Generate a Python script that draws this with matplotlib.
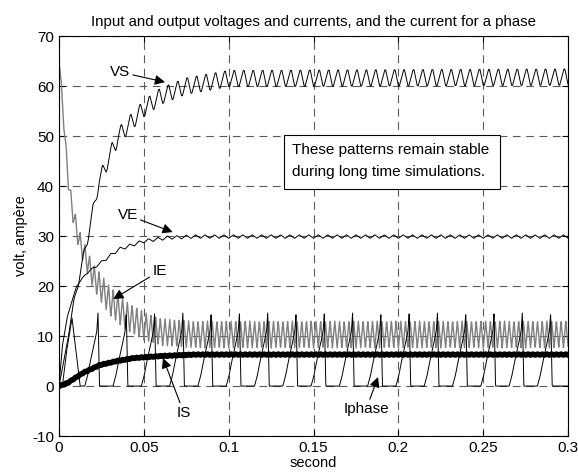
import numpy as np
import matplotlib
matplotlib.use("Agg")
import matplotlib.pyplot as plt
from matplotlib.patches import Rectangle

plt.rcParams['font.family'] = ['Liberation Sans', 'DejaVu Sans']
plt.rcParams['axes.unicode_minus'] = False

# time base (s)
t = np.arange(0, 0.3, 1e-4)

# VS: output voltage, mean read at anchor times + 180 Hz ripple
vs_t = [0, 0.004, 0.0078, 0.0177, 0.0236, 0.035, 0.05, 0.06, 0.075, 0.1, 0.3]
vs_mean = [0, 7, 15, 31, 41, 50, 55.5, 58, 60, 61.5, 61.8]
vs_amp_t = [0, 0.015, 0.03, 0.3]
vs_amp = [0, 1.0, 1.6, 1.6]
vs_period = 1 / 180
vs_shape_x = [0, 0.1, 0.55, 0.65, 1]
vs_shape_y = [-1, -1, 1, 1, -1]

# VE: input voltage
ve_t = [0, 0.002, 0.005, 0.0104, 0.016, 0.024, 0.035, 0.05, 0.065, 0.08, 0.3]
ve_mean = [0, 8, 14, 20, 22.5, 24.5, 27.3, 29, 29.7, 29.9, 29.9]
ve_amp = 0.35
ve_period = 1 / 180

# IE: input current
ie_t = [0, 0.003, 0.0055, 0.008, 0.012, 0.02, 0.03, 0.04, 0.05, 0.06, 0.08, 0.3]
ie_mean = [66, 52, 41, 35, 29, 22, 17, 14, 12, 10.8, 10.3, 10.3]
ie_amp_t = [0, 0.01, 0.03, 0.06, 0.3]
ie_amp = [1.0, 2.0, 3.0, 2.7, 2.7]
ie_period = 1 / 360

# IS: output current
is_t = [0, 0.005, 0.014, 0.024, 0.034, 0.044, 0.06, 0.08, 0.3]
is_mean = [0, 0.6, 2.6, 4.2, 5.0, 5.6, 6.0, 6.3, 6.3]
is_amp = 0.1
is_period = 1 / 360

# Iphase: one phase current, pulses every 1/60 s
iph_first_t = [0.002, 0.0045, 0.0077, 0.010, 0.0125]
iph_first_v = [0, 7, 13.6, 7, 0]
iph_peaks = [0.023 + k / 60 for k in range(17)]
iph_dt = [-0.0078, -0.0062, -0.0045, -0.0025, -0.0007, 0, 0.0004, 0.0009]
iph_v = [0, 2, 5, 8, 11, 14.6, 8, 0]


def tri(tt, period, sx, sy):
    return np.interp((tt % period) / period, sx, sy)


vs = np.interp(t, vs_t, vs_mean) + np.interp(t, vs_amp_t, vs_amp) * tri(t, vs_period, vs_shape_x, vs_shape_y)
ve = np.interp(t, ve_t, ve_mean) + ve_amp * np.clip(t / 0.03, 0, 1) * tri(t, ve_period, [0, 0.5, 1], [-1, 1, -1])
ie = np.interp(t, ie_t, ie_mean) + np.interp(t, ie_amp_t, ie_amp) * tri(t, ie_period, [0, 0.5, 1], [-1, 1, -1])
is_ = np.interp(t, is_t, is_mean) + is_amp * tri(t, is_period, [0, 0.5, 1], [-1, 1, -1])
iph = np.interp(t, iph_first_t, iph_first_v, left=0, right=0)
for p in iph_peaks:
    iph = np.maximum(iph, np.interp(t - p, iph_dt, iph_v, left=0, right=0))

fig = plt.figure(figsize=(5.78, 4.75), dpi=100)
ax = fig.add_axes([0.102, 0.082, 0.881, 0.842])

ax.plot(t, ie, color='0.5', lw=1.0)
ax.plot(t, vs, color='black', lw=0.7)
ax.plot(t, ve, color='black', lw=0.7)
ax.plot(t, iph, color='black', lw=0.7)
ax.plot(t, is_, color='black', lw=4)

ax.set_xlim(0, 0.3)
ax.set_ylim(-10, 70)
ax.set_xticks([0, 0.05, 0.1, 0.15, 0.2, 0.25, 0.3])
ax.set_xticklabels(['0', '0.05', '0.1', '0.15', '0.2', '0.25', '0.3'])
ax.set_yticks(range(-10, 71, 10))
ax.tick_params(direction='in', labelsize=11, length=4, top=True, right=True)
ax.grid(True, color='0.35', lw=0.8, linestyle=(0, (7, 5)))
for s in ax.spines.values():
    s.set_linewidth(0.8)

ax.set_title('Input and output voltages and currents, and the current for a phase', fontsize=10.8, pad=7)
ax.set_xlabel('second', fontsize=10.5, labelpad=1)
ax.set_ylabel('volt, ampère', fontsize=10.5, labelpad=3)

arrow = dict(arrowstyle='-|>', color='black', lw=0.8, mutation_scale=15, shrinkA=0, shrinkB=0)
ax.annotate('VS', xy=(0.0625, 60.8), xytext=(0.0300, 62.8), fontsize=11, va='center', arrowprops=arrow)
ax.annotate('VE', xy=(0.067, 30.8), xytext=(0.0345, 34.2), fontsize=11, va='center', arrowprops=arrow)
ax.annotate('IE', xy=(0.032, 17.4), xytext=(0.055, 23.0), fontsize=11, va='center', arrowprops=arrow)
ax.annotate('IS', xy=(0.0613, 5.6), xytext=(0.0735, -5.3), fontsize=11, va='center', ha='center', arrowprops=arrow)
ax.annotate('Iphase', xy=(0.188, 1.8), xytext=(0.181, -4.6), fontsize=11, va='center', ha='center', arrowprops=arrow)

ax.add_patch(Rectangle((0.442, 0.6175), 0.424, 0.135, transform=ax.transAxes,
                       facecolor='white', edgecolor='black', lw=0.8, zorder=5))
ax.text(0.458, 0.714, 'These patterns remain stable', transform=ax.transAxes, fontsize=11, va='center', zorder=6)
ax.text(0.458, 0.660, 'during long time simulations.', transform=ax.transAxes, fontsize=11, va='center', zorder=6)

fig.savefig('out.png', dpi=100)
